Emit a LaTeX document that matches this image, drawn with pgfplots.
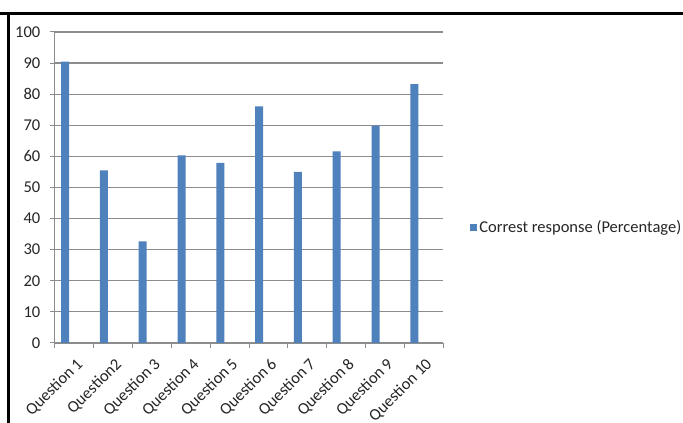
\documentclass[border=0pt]{standalone}
\usepackage{fontspec}
\setmainfont{Carlito}
\usepackage{pgfplots}
\pgfplotsset{compat=1.18}
\definecolor{barblue}{HTML}{4F81BD}
\definecolor{gridgray}{HTML}{8C8C8C}
\definecolor{txt}{HTML}{262626}
\begin{document}
\fontsize{16.5}{19}\selectfont
\begin{tikzpicture}[x=1pt,y=1pt]
\useasboundingbox (0,0) rectangle (683,423);
\fill[white] (0,0) rectangle (683,423);
\begin{axis}[
  at={(55pt,80pt)}, anchor=south west,
  scale only axis, width=388pt, height=311pt,
  xmin=0.5, xmax=10.5, ymin=0, ymax=100,
  ytick={0,10,...,100},
  xtick={1,...,10},
  xticklabels={Question 1,Question2,Question 3,Question 4,Question 5,Question 6,Question 7,Question 8,Question 9,Question 10},
  minor xtick={0.5,1.5,...,10.5},
  tick align=outside,
  major tick length=5pt, minor tick length=5pt,
  xtick style={draw=none},
  minor x tick style={draw=gridgray, line width=1pt},
  ytick style={draw=gridgray, line width=1pt},
  axis x line*=bottom, axis y line*=left,
  axis line style={draw=gridgray, line width=1pt, -},
  ymajorgrids,
  grid style={draw=gridgray, line width=1.2pt},
  xticklabel style={xshift=1pt, yshift=-1pt, rotate=45, anchor=north east, font=\fontsize{16.5}{19}\selectfont, text=txt},
  yticklabel style={font=\fontsize{16.5}{19}\selectfont, text=txt, xshift=-4pt},
  /pgf/number format/assume math mode=true,
  legend style={at={(1.07,0.37)}, anchor=west, draw=none, fill=none,
    font=\fontsize{16.5}{19}\selectfont, text=txt, inner xsep=0pt, inner ysep=0pt},
  legend image code/.code={\fill[barblue] (0pt,-3.5pt) rectangle (7pt,3.5pt);},
  legend cell align=left,
]
\addplot[ybar, bar width=8pt, bar shift=-9.3pt, fill=barblue, draw=none] coordinates {
(1,90.5) (2,55.5) (3,32.7) (4,60.3) (5,57.9) (6,76.1) (7,55.0) (8,61.6) (9,69.9) (10,83.2)};
\addlegendentry{Correst response (Percentage)}
\end{axis}
\draw[black, line width=3pt] (0,409.7) -- (683,409.7);
\draw[black, line width=3pt] (8.7,411.2) -- (8.7,0);
\end{tikzpicture}
\end{document}
